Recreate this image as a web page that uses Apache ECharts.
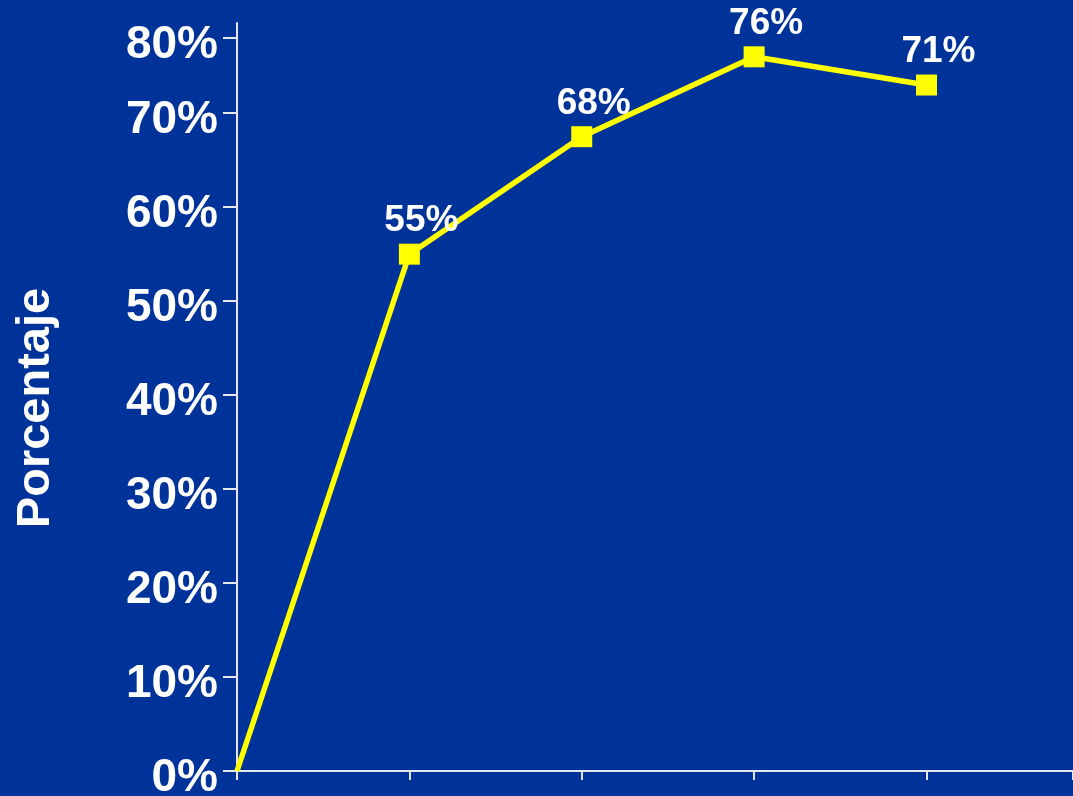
<!DOCTYPE html>
<html><head><meta charset="utf-8">
<script src="https://cdn.jsdelivr.net/npm/echarts@6/dist/echarts.min.js"></script>
<style>html,body{margin:0;padding:0;background:#003399;overflow:hidden}#chart{width:1073px;height:796px;}</style>
</head><body><div id="chart"></div>
<script>
const xPositions = [0, 1, 2, 3, 4];
const percentages = [0, 55, 67.5, 76, 73];
const pointLabels = ['', '55%', '68%', '76%', '71%'];
const yTickValues = [0, 10, 20, 30, 40, 50, 60, 70, 78];
const yTickLabels = ['0%', '10%', '20%', '30%', '40%', '50%', '60%', '70%', '80%'];
const yAxisName = 'Porcentaje';

const FONT = 'Liberation Sans, Arial, sans-serif';
const chart = echarts.init(document.getElementById('chart'));
function yLabel(v) {
  for (let i = 0; i < yTickValues.length; i++) {
    if (Math.abs(yTickValues[i] - v) < 0.01) return yTickLabels[i];
  }
  return '';
}
chart.setOption({
  animation: false,
  backgroundColor: '#003399',
  grid: { left: 237, right: 0, top: 23, bottom: 25, containLabel: false, outerBoundsMode: 'none' },
  xAxis: {
    type: 'value', min: 0, max: 4.85, interval: 1,
    axisLine: { show: true, onZero: false, lineStyle: { color: '#e6e6f0', width: 2 } },
    axisTick: { show: true, inside: false, length: 9, lineStyle: { color: '#e6e6f0', width: 2 } },
    axisLabel: { show: false },
    splitLine: { show: false }
  },
  yAxis: {
    type: 'value', min: 0, max: 79.6,
    name: yAxisName, nameLocation: 'middle', nameGap: 177, nameRotate: 90,
    nameTextStyle: { color: '#ffffff', fontSize: 47, fontWeight: 'bold', fontFamily: FONT, padding: [0, 22, 0, 0] },
    axisLine: { show: true, lineStyle: { color: '#e6e6f0', width: 2 } },
    axisTick: { show: true, length: 14, customValues: yTickValues, lineStyle: { color: '#e6e6f0', width: 2 } },
    axisLabel: {
      show: true, customValues: yTickValues, formatter: yLabel, margin: 19,
      color: '#ffffff', fontSize: 46, fontWeight: 'bold', fontFamily: FONT,
      verticalAlign: 'top', lineHeight: 14
    },
    splitLine: { show: false }
  },
  series: [{
    type: 'line',
    showAllSymbol: true,
    symbol: 'rect',
    symbolSize: 21,
    lineStyle: { color: '#ffff00', width: 5.5 },
    itemStyle: { color: '#ffff00' },
    label: {
      show: true, position: 'top', distance: 4, offset: [12, 0],
      color: '#ffffff', fontSize: 37, fontWeight: 'bold', fontFamily: FONT,
      formatter: p => pointLabels[p.dataIndex]
    },
    data: xPositions.map((x, i) => ({
      value: [x, percentages[i]],
      symbol: pointLabels[i] === '' ? 'none' : 'rect'
    }))
  }]
});
</script></body></html>
